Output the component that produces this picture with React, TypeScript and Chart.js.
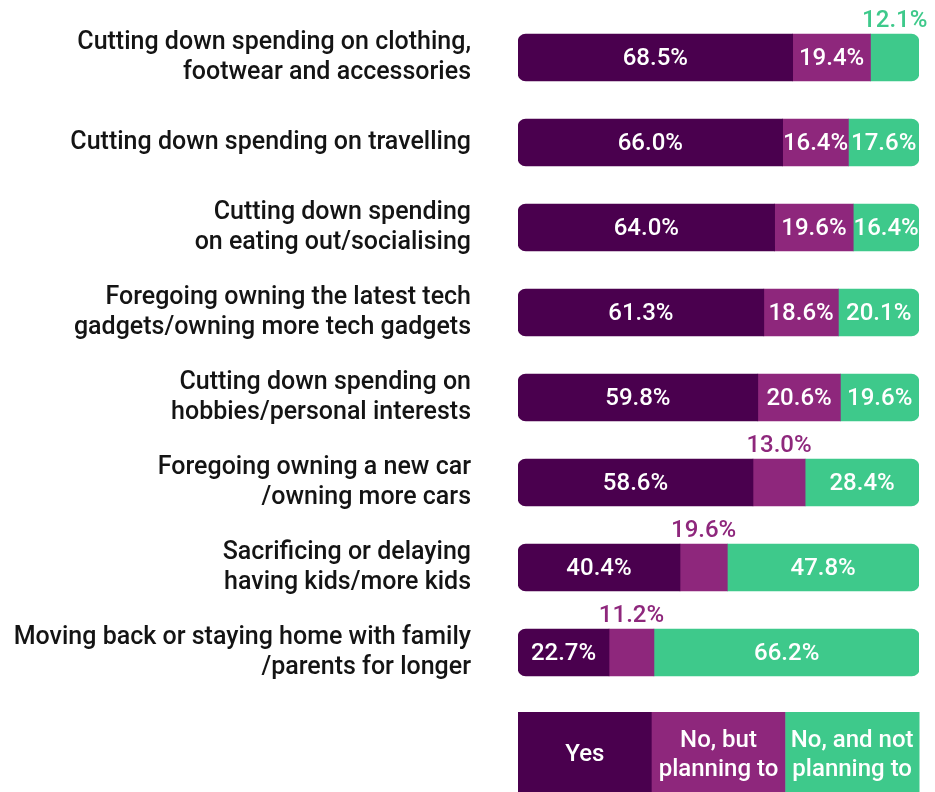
import React, { useEffect, useRef } from "react";
import { Chart, registerables } from "chart.js";

Chart.register(...registerables);

const categories: (string | string[])[] = [
  ["Cutting down spending on clothing,", "footwear and accessories"],
  "Cutting down spending on travelling",
  ["Cutting down spending", "on eating out/socialising"],
  ["Foregoing owning the latest tech", "gadgets/owning more tech gadgets"],
  ["Cutting down spending on", "hobbies/personal interests"],
  ["Foregoing owning a new car", "/owning more cars"],
  ["Sacrificing or delaying", "having kids/more kids"],
  ["Moving back or staying home with family", "/parents for longer"],
];

const yesValues = [68.5, 66.0, 64.0, 61.3, 59.8, 58.6, 40.4, 22.7];
const noButValues = [19.4, 16.4, 19.6, 18.6, 20.6, 13.0, 11.8, 11.2];
const noNotValues = [12.1, 17.6, 16.4, 20.1, 19.6, 28.4, 47.8, 66.2];

const yesLabels = ["68.5%", "66.0%", "64.0%", "61.3%", "59.8%", "58.6%", "40.4%", "22.7%"];
const noButLabels = ["19.4%", "16.4%", "19.6%", "18.6%", "20.6%", "13.0%", "19.6%", "11.2%"];
const noNotLabels = ["12.1%", "17.6%", "16.4%", "20.1%", "19.6%", "28.4%", "47.8%", "66.2%"];

const legendLabels: string[][] = [["Yes"], ["No, but", "planning to"], ["No, and not", "planning to"]];

const COLORS = ["#4a004e", "#8e277c", "#3ec98b"];
const FONT = "Roboto, 'DejaVu Sans', sans-serif";

export default function App() {
  const ref = useRef<HTMLCanvasElement | null>(null);

  useEffect(() => {
    if (!ref.current) return;
    const allLabels = [yesLabels, noButLabels, noNotLabels];

    const labelPlugin = {
      id: "segLabels",
      afterDatasetsDraw(chart: any) {
        const ctx = chart.ctx;
        ctx.save();
        ctx.font = `500 24px ${FONT}`;
        ctx.textAlign = "center";
        ctx.textBaseline = "middle";
        chart.data.datasets.forEach((ds: any, di: number) => {
          const meta = chart.getDatasetMeta(di);
          meta.data.forEach((bar: any, i: number) => {
            const v = ds.data[i];
            const cx = (bar.x + bar.base) / 2;
            const text = allLabels[di][i];
            if (v < 14) {
              ctx.fillStyle = COLORS[di];
              ctx.fillText(text, cx, bar.y - bar.height / 2 - 13);
            } else {
              ctx.fillStyle = "#ffffff";
              ctx.fillText(text, cx, bar.y + 1);
            }
          });
        });
        ctx.restore();
      },
      afterDraw(chart: any) {
        const ctx = chart.ctx;
        const xs = chart.scales.x;
        const left = xs.left;
        const w = (xs.right - xs.left) / 3;
        const top = 712;
        const h = 80;
        ctx.save();
        ctx.font = `500 24px ${FONT}`;
        ctx.textAlign = "center";
        ctx.textBaseline = "middle";
        legendLabels.forEach((lines, k) => {
          ctx.fillStyle = COLORS[k];
          ctx.fillRect(left + k * w, top, w + 0.5, h);
          ctx.fillStyle = "#ffffff";
          const cx = left + k * w + w / 2;
          const lh = 29;
          const startY = top + h / 2 + 3 - ((lines.length - 1) * lh) / 2;
          lines.forEach((ln, j) => ctx.fillText(ln, cx, startY + j * lh));
        });
        ctx.restore();
      },
    };

    const mkRadius = (di: number) => {
      const r = 8;
      if (di === 0) return { topLeft: r, bottomLeft: r, topRight: 0, bottomRight: 0 };
      if (di === 2) return { topLeft: 0, bottomLeft: 0, topRight: r, bottomRight: r };
      return 0;
    };

    const chart = new Chart(ref.current, {
      type: "bar",
      data: {
        labels: categories,
        datasets: [yesValues, noButValues, noNotValues].map((d, di) => ({
          label: legendLabels[di].join(" "),
          data: d,
          backgroundColor: COLORS[di],
          borderWidth: 0,
          borderSkipped: false,
          borderRadius: mkRadius(di),
          barThickness: 47,
        })),
      },
      options: {
        indexAxis: "y",
        animation: false,
        responsive: false,
        maintainAspectRatio: false,
        layout: { padding: { top: 15, bottom: 97, right: 16, left: 0 } },
        plugins: { legend: { display: false }, tooltip: { enabled: false } },
        scales: {
          x: { stacked: true, min: 0, max: 100, display: false },
          y: {
            stacked: true,
            grid: { display: false },
            border: { display: false },
            ticks: {
              color: "#141414",
              padding: 39,
              font: { family: FONT, size: 25, weight: "500", lineHeight: 1.2 },
            },
            afterFit(scale: any) {
              scale.width = 518;
              scale.paddingTop = 0;
              scale.paddingBottom = 0;
            },
          },
        },
      },
      plugins: [labelPlugin],
    });
    return () => chart.destroy();
  }, []);

  return (
    <div style={{ position: "fixed", left: 0, top: 0, width: 935, height: 792, background: "#fff" }}>
      <canvas ref={ref} width={935} height={792} style={{ width: 935, height: 792 }} />
    </div>
  );
}
